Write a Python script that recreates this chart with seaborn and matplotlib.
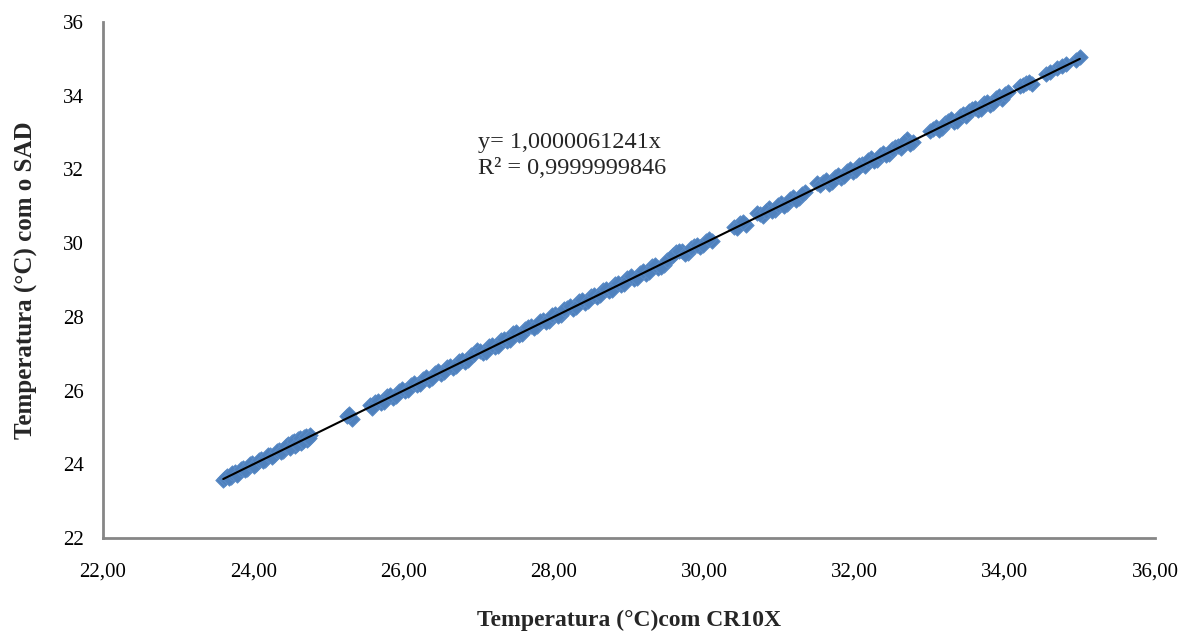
import matplotlib
matplotlib.use("Agg")
import matplotlib.pyplot as plt
import seaborn as sns
import pandas as pd

# readings, first pass
x_cr10x_a = [23.60, 23.65, 23.70, 23.75, 23.80, 23.86, 23.92, 23.98, 24.04, 24.10,
             24.16, 24.22, 24.28, 24.34, 24.40, 24.46, 24.52, 24.56, 24.60, 24.64,
             24.68, 24.72, 24.76, 25.25, 25.32, 25.55, 25.62, 25.70, 25.78, 25.86,
             25.94, 26.02, 26.10, 26.18, 26.26, 26.34, 26.42, 26.50, 26.58, 26.66,
             26.74, 26.82, 26.90, 26.98, 27.06, 27.14, 27.22, 27.30, 27.38, 27.46,
             27.54, 27.62, 27.70, 27.78, 27.86, 27.94, 28.02, 28.10, 28.18, 28.26,
             28.34, 28.42, 28.50, 28.58, 28.66, 28.74, 28.82, 28.90, 28.98, 29.06,
             29.14, 29.22, 29.30, 29.38, 29.46, 29.54, 29.62, 29.70, 29.78, 29.86,
             29.94, 30.02, 30.10, 30.40, 30.48, 30.56, 30.70, 30.78, 30.86, 30.94,
             31.02, 31.10, 31.18, 31.26, 31.34, 31.50, 31.58, 31.66, 31.74, 31.82,
             31.90, 31.98, 32.06, 32.14, 32.22, 32.30, 32.38, 32.46, 32.54, 32.62,
             32.70, 32.78, 33.00, 33.08, 33.16, 33.24, 33.32, 33.40, 33.48, 33.56,
             33.64, 33.72, 33.80, 33.88, 33.96, 34.04, 34.20, 34.28, 34.36, 34.55,
             34.70, 34.82, 34.95, 35.00]

y_sad_a = [23.58, 23.68, 23.66, 23.80, 23.77, 23.90, 23.88, 24.03, 24.01, 24.15,
           24.12, 24.26, 24.24, 24.38, 24.36, 24.55, 24.60, 24.50, 24.68, 24.58,
           24.75, 24.66, 24.80, 25.32, 25.24, 25.60, 25.70, 25.66, 25.85, 25.80,
           26.00, 25.98, 26.16, 26.14, 26.32, 26.30, 26.48, 26.46, 26.63, 26.62,
           26.80, 26.77, 26.96, 27.10, 27.02, 27.20, 27.18, 27.36, 27.34, 27.55,
           27.50, 27.68, 27.76, 27.74, 27.92, 27.90, 28.08, 28.05, 28.25, 28.22,
           28.42, 28.38, 28.56, 28.54, 28.73, 28.70, 28.88, 28.86, 29.06, 29.02,
           29.20, 29.16, 29.38, 29.32, 29.42, 29.60, 29.75, 29.78, 29.74, 29.92,
           29.90, 30.06, 30.05, 30.44, 30.55, 30.50, 30.82, 30.74, 30.94, 30.90,
           31.08, 31.05, 31.26, 31.22, 31.38, 31.62, 31.66, 31.60, 31.80, 31.76,
           31.96, 31.94, 32.12, 32.10, 32.32, 32.26, 32.44, 32.42, 32.60, 32.58,
           32.82, 32.74, 33.04, 33.16, 33.12, 33.32, 33.28, 33.46, 33.44, 33.64,
           33.60, 33.80, 33.76, 33.94, 33.92, 34.10, 34.26, 34.34, 34.32, 34.60,
           34.74, 34.86, 34.98, 35.04]

# readings, second pass (in between)
x_cr10x_b = [23.62, 23.68, 23.72, 23.78, 23.83, 23.89, 23.95, 24.01, 24.07, 24.13,
             24.19, 24.25, 24.31, 24.37, 24.43, 24.49, 24.54, 24.58, 24.62, 24.66,
             24.70, 24.74, 25.28, 25.58, 25.66, 25.74, 25.82, 25.90, 25.98, 26.06,
             26.14, 26.22, 26.30, 26.38, 26.46, 26.54, 26.62, 26.70, 26.78, 26.86,
             26.94, 27.02, 27.10, 27.18, 27.26, 27.34, 27.42, 27.50, 27.58, 27.66,
             27.74, 27.82, 27.90, 27.98, 28.06, 28.14, 28.22, 28.30, 28.38, 28.46,
             28.54, 28.62, 28.70, 28.78, 28.86, 28.94, 29.02, 29.10, 29.18, 29.26,
             29.34, 29.42, 29.50, 29.58, 29.66, 29.74, 29.82, 29.90, 29.98, 30.06,
             30.44, 30.52, 30.74, 30.82, 30.90, 30.98, 31.06, 31.14, 31.22, 31.30,
             31.54, 31.62, 31.70, 31.78, 31.86, 31.94, 32.02, 32.10, 32.18, 32.26,
             32.34, 32.42, 32.50, 32.58, 32.66, 32.74, 33.04, 33.12, 33.20, 33.28,
             33.36, 33.44, 33.52, 33.60, 33.68, 33.76, 33.84, 33.92, 34.00, 34.24,
             34.32, 34.60, 34.76]

y_sad_b = [23.64, 23.63, 23.76, 23.72, 23.86, 23.84, 24.00, 23.96, 24.11, 24.08,
           24.24, 24.20, 24.36, 24.32, 24.50, 24.45, 24.62, 24.54, 24.70, 24.62,
           24.78, 24.70, 25.36, 25.54, 25.72, 25.70, 25.88, 25.86, 26.04, 26.02,
           26.20, 26.18, 26.36, 26.34, 26.52, 26.50, 26.68, 26.66, 26.84, 26.82,
           27.00, 27.08, 27.06, 27.24, 27.22, 27.40, 27.38, 27.58, 27.54, 27.72,
           27.70, 27.88, 27.86, 28.04, 28.02, 28.20, 28.30, 28.26, 28.46, 28.42,
           28.60, 28.58, 28.76, 28.74, 28.92, 28.90, 29.10, 29.06, 29.24, 29.22,
           29.40, 29.36, 29.54, 29.68, 29.80, 29.70, 29.88, 29.96, 29.94, 30.10,
           30.40, 30.58, 30.78, 30.88, 30.86, 31.04, 31.02, 31.20, 31.18, 31.34,
           31.58, 31.70, 31.66, 31.84, 31.82, 32.00, 31.98, 32.16, 32.26, 32.22,
           32.40, 32.38, 32.56, 32.64, 32.74, 32.70, 33.10, 33.08, 33.26, 33.36,
           33.32, 33.50, 33.58, 33.68, 33.64, 33.84, 33.80, 33.98, 34.06, 34.30,
           34.38, 34.64, 34.80]

slope = 1.0000061241
eq_text = "y= 1,0000061241x"
r2_text = "R² = 0,9999999846"
x_ticks = [22, 24, 26, 28, 30, 32, 34, 36]
x_ticklabels = ["22,00", "24,00", "26,00", "28,00", "30,00", "32,00", "34,00", "36,00"]
y_ticks = [22, 24, 26, 28, 30, 32, 34, 36]
y_ticklabels = ["22", "24", "26", "28", "30", "32", "34", "36"]

df = pd.DataFrame({"x": x_cr10x_a + x_cr10x_b, "y": y_sad_a + y_sad_b})
trend = pd.DataFrame({"x": [df["x"].min(), df["x"].max()]})
trend["y"] = trend["x"] * slope

sns.set_theme(style="white")
plt.rcParams["font.family"] = ["Liberation Serif", "DejaVu Serif"]

fig = plt.figure(figsize=(11.91, 6.35), dpi=100)
ax = fig.add_axes([103 / 1191, 1 - 538 / 635, (1155 - 103) / 1191, (538 - 22) / 635])

sns.scatterplot(data=df, x="x", y="y", ax=ax, marker="D", s=62,
                color="#4F81BD", edgecolor="#5B8CC8", linewidth=0.6, zorder=2)
sns.lineplot(data=trend, x="x", y="y", ax=ax, color="black", linewidth=1.5, zorder=3)

ax.set_xlim(22, 36)
ax.set_ylim(22, 36)
ax.set_xticks(x_ticks)
ax.set_xticklabels(x_ticklabels)
ax.set_yticks(y_ticks)
ax.set_yticklabels(y_ticklabels)

for side in ["top", "right"]:
    ax.spines[side].set_visible(False)
for side in ["left", "bottom"]:
    ax.spines[side].set_color("#868686")
    ax.spines[side].set_linewidth(2)

ax.tick_params(axis="both", direction="out", length=6, width=1.5, color="#868686",
               labelsize=15, labelcolor="black", pad=8)
ax.tick_params(axis="x", pad=12)

ax.set_xlabel("Temperatura (°C)com CR10X", fontsize=17, fontweight="bold", labelpad=20)
ax.set_ylabel("Temperatura (°C) com o SAD", fontsize=18, fontweight="bold", labelpad=18)

ax.text(26.99, 32.73, eq_text, fontsize=17.5, va="center", ha="left")
ax.text(26.99, 32.03, r2_text, fontsize=17.5, va="center", ha="left")

fig.savefig("out.png", dpi=100, facecolor="white")
